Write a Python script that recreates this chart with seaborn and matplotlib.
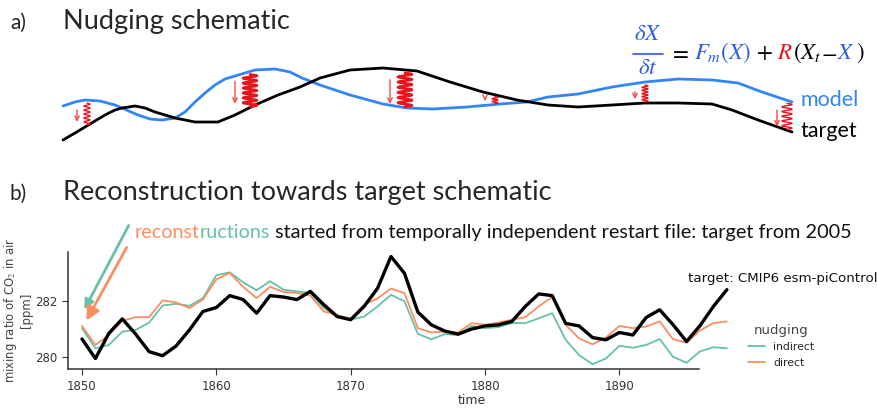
import numpy as np
import pandas as pd
import seaborn as sns
import matplotlib.pyplot as plt

W, H = 878, 409

# ---- panel b data ----
years = np.arange(1850, 1899)
target = [280.65, 279.96, 280.85, 281.36, 280.82, 280.20, 280.06, 280.40, 280.97, 281.62,
          281.76, 282.18, 282.04, 281.56, 282.18, 282.13, 282.04, 282.33, 281.86, 281.44,
          281.33, 281.80, 282.44, 283.56, 282.97, 281.60, 281.15, 280.93, 280.82, 281.00,
          281.11, 281.15, 281.27, 281.80, 282.24, 282.18, 281.20, 281.11, 280.70, 280.62,
          280.88, 280.79, 281.41, 281.68, 281.15, 280.56, 281.12, 281.80, 282.39]
direct = [281.11, 280.44, 280.79, 281.29, 281.42, 281.42, 282.01, 281.94, 281.74, 282.04,
          282.75, 282.98, 282.49, 282.09, 282.49, 282.31, 282.27, 282.18, 281.62, 281.50,
          281.36, 281.86, 282.08, 282.43, 282.27, 281.03, 280.88, 280.91, 280.88, 281.21,
          281.15, 281.23, 281.33, 281.42, 281.80, 282.13, 281.15, 280.67, 280.46, 280.70,
          281.11, 281.03, 281.09, 281.27, 280.64, 280.52, 280.95, 281.21, 281.27]
indirect = [281.03, 280.32, 280.44, 280.91, 280.97, 281.23, 281.83, 281.89, 281.82, 282.09,
            282.90, 283.00, 282.65, 282.37, 282.69, 282.39, 282.33, 282.27, 281.74, 281.47,
            281.33, 281.44, 281.80, 282.21, 281.98, 280.83, 280.64, 280.82, 280.79, 281.11,
            281.03, 281.07, 281.21, 281.21, 281.38, 281.56, 280.62, 280.08, 279.76, 279.96,
            280.41, 280.34, 280.44, 280.65, 280.02, 279.81, 280.21, 280.36, 280.32]
xticks = [1850, 1860, 1870, 1880, 1890]
yticks = [280, 282]

# ---- panel a schematic curves (pixel positions) ----
model_x = [63, 75, 85, 100, 115, 138, 150, 162, 175, 185, 195, 205, 215, 225, 235, 255, 275,
           290, 302, 320, 350, 383, 407, 433, 467, 500, 527, 548, 578, 612, 645, 678, 712,
           738, 762, 792]
model_y = [106, 102, 100, 101, 105, 115, 119, 120, 118, 112, 102, 93, 85, 79, 76, 70, 69,
           72, 78, 85, 95, 104, 108, 109, 107, 104, 102, 97, 94, 87, 82, 79, 80,
           83, 92, 102]
target_x = [63, 75, 85, 95, 105, 115, 122, 135, 145, 155, 175, 195, 218, 235, 255, 278, 300,
            320, 350, 383, 417, 450, 483, 517, 548, 578, 612, 645, 678, 712, 732, 758, 792]
target_y = [140, 133, 127, 121, 115, 110, 108, 106, 108, 112, 118, 122, 122, 115, 105, 95, 87,
            78, 70, 68, 71, 82, 92, 100, 105, 107, 105, 103, 103, 104, 110, 120, 132]
spring_x = [87, 250, 405, 495, 645, 787]

BLUE = "#3385f5"
EQ_BLUE = "#2b5ce6"
RED = "#e8141c"
ARROW = "#ef4d43"
TXT = "Lato"

sns.set_style("ticks")
plt.rcParams["mathtext.fontset"] = "stix"

fig = plt.figure(figsize=(W / 100, H / 100), dpi=100)

# panel b axes
ax = fig.add_axes([68 / W, 1 - 369.3 / H, (876 - 68) / W, 117.6 / H])
ax.patch.set_alpha(0)
n = len(years)
df = pd.DataFrame({
    "time": np.concatenate([years, years]),
    "co2": indirect + direct,
    "nudging": ["indirect"] * n + ["direct"] * n,
})
sns.lineplot(data=df, x="time", y="co2", hue="nudging", hue_order=["indirect", "direct"],
             palette=sns.color_palette("Set2", 2), lw=1.3, ax=ax)
sns.lineplot(x=years, y=target, color="black", lw=2.4, ax=ax, legend=False)

ax.set_xlim(1848.96, 1909.1)
ax.set_ylim(279.58, 283.73)
ax.set_xticks(xticks)
ax.set_yticks(yticks)
sns.despine(ax=ax)
ax.spines["bottom"].set_bounds(1848.96, 1895.9)
for s in ["left", "bottom"]:
    ax.spines[s].set_color("#333333")
    ax.spines[s].set_linewidth(1.1)
ax.tick_params(labelsize=8.5, colors="#333333", length=4)
ax.set_xlabel("time", fontsize=9, color="#333333", labelpad=1)
ax.set_ylabel("mixing ratio of CO$_2$ in air\n[ppm]", fontsize=8.4, color="#444444",
              linespacing=1.15)
ax.yaxis.set_label_coords(-0.043, 0.5)
sns.move_legend(ax, "upper left", bbox_to_anchor=(0.83, 0.47), frameon=False,
                fontsize=7.8, title_fontsize=9.5, handlelength=1.5)
ax.get_legend().get_title().set_color("#444444")

# overlay in pixel coordinates
ov = fig.add_axes([0, 0, 1, 1])
ov.set_xlim(0, W)
ov.set_ylim(H, 0)
ov.axis("off")
ov.patch.set_alpha(0)

sns.lineplot(x=model_x, y=model_y, sort=False, color=BLUE, lw=2.0, ax=ov)
sns.lineplot(x=target_x, y=target_y, sort=False, color="black", lw=2.0, ax=ov)

# springs (coils) between model and target, with a small arrow beside each
for i, sx in enumerate(spring_x):
    ym = np.interp(sx, model_x, model_y)
    yt = np.interp(sx, target_x, target_y)
    top, bot = min(ym, yt), max(ym, yt)
    if bot - top < 12:
        mid = (top + bot) / 2
        top, bot = mid - 6, mid + 5
    big = i in (1, 2)
    w = 14 if big else (10 if i == 5 else 6)
    loops = 6.5 if big else (5.5 if (bot - top) > 15 else 2.5)
    tt = np.linspace(0, 2 * np.pi * loops, 300)
    zx = sx + w / 2 * np.sin(tt)
    zy = top + 3 + (bot - top - 4) * tt / tt[-1]
    ov.plot(zx, zy, color=RED, lw=1.9 if big else 1.0)
    arr_x = sx - (15 if big else 10)
    y0 = top + (7 if bot - top > 15 else 2)
    ov.annotate("", xy=(arr_x, bot - 1), xytext=(arr_x, y0),
                arrowprops=dict(arrowstyle="->", color=ARROW, lw=1.0, mutation_scale=8))

ov.text(801, 100, "model", color=BLUE, fontsize=15.5, family=TXT, va="center")
ov.text(801, 131, "target", color="black", fontsize=15.5, family=TXT, va="center")

# equation
ov.text(648, 40, r"$\delta X$", color=EQ_BLUE, fontsize=16.5, ha="center", va="baseline")
ov.text(648, 74, r"$\delta t$", color=EQ_BLUE, fontsize=16.5, ha="center", va="baseline")
ov.plot([633, 663], [53.5, 53.5], color=EQ_BLUE, lw=1.2)
r = fig.canvas.get_renderer()
x = 669
for s, c, gap in [(r"$=$", "black", 0), (r"$F_m(X)$", EQ_BLUE, 5), (r"$+$", "black", 5),
                  (r"$R$", RED, 5), (r"$(X_t$", "black", 0), (r"$-$", "black", 0),
                  (r"$X$", EQ_BLUE, 0), (r"$)$", "black", 1)]:
    x += gap
    t = ov.text(x, 59, s, color=c, fontsize=16.5, va="baseline", ha="left")
    x += t.get_window_extent(r).width

# titles
ov.text(10, 29, "a)", fontsize=15, family=TXT, va="baseline")
ov.text(63, 29, "Nudging schematic", fontsize=19.5, family=TXT, va="baseline")
ov.text(10, 200, "b)", fontsize=15, family=TXT, va="baseline")
ov.text(63, 200, "Reconstruction towards target schematic", fontsize=19.5, family=TXT,
        va="baseline")

x = 135
for s, c in [("reconst", "#fc8d62"), ("ructions", "#66c2a5"),
             (" started from temporally independent restart file: target from 2005", "#111111")]:
    t = ov.text(x, 238, s, color=c, fontsize=14.3, family=TXT, va="baseline")
    x += t.get_window_extent(r).width

ov.text(688, 282, "target: CMIP6 esm-piControl", fontsize=9.6, color="#111111", va="baseline")

# arrows towards start of reconstructions
ov.annotate("", xy=(83, 312), xytext=(130, 223),
            arrowprops=dict(arrowstyle="-|>", color="#66c2a5", lw=2.0, mutation_scale=14))
ov.annotate("", xy=(85, 323), xytext=(128, 245),
            arrowprops=dict(arrowstyle="-|>", color="#fc8d62", lw=2.0, mutation_scale=20))

fig.savefig("out.png", dpi=100)
